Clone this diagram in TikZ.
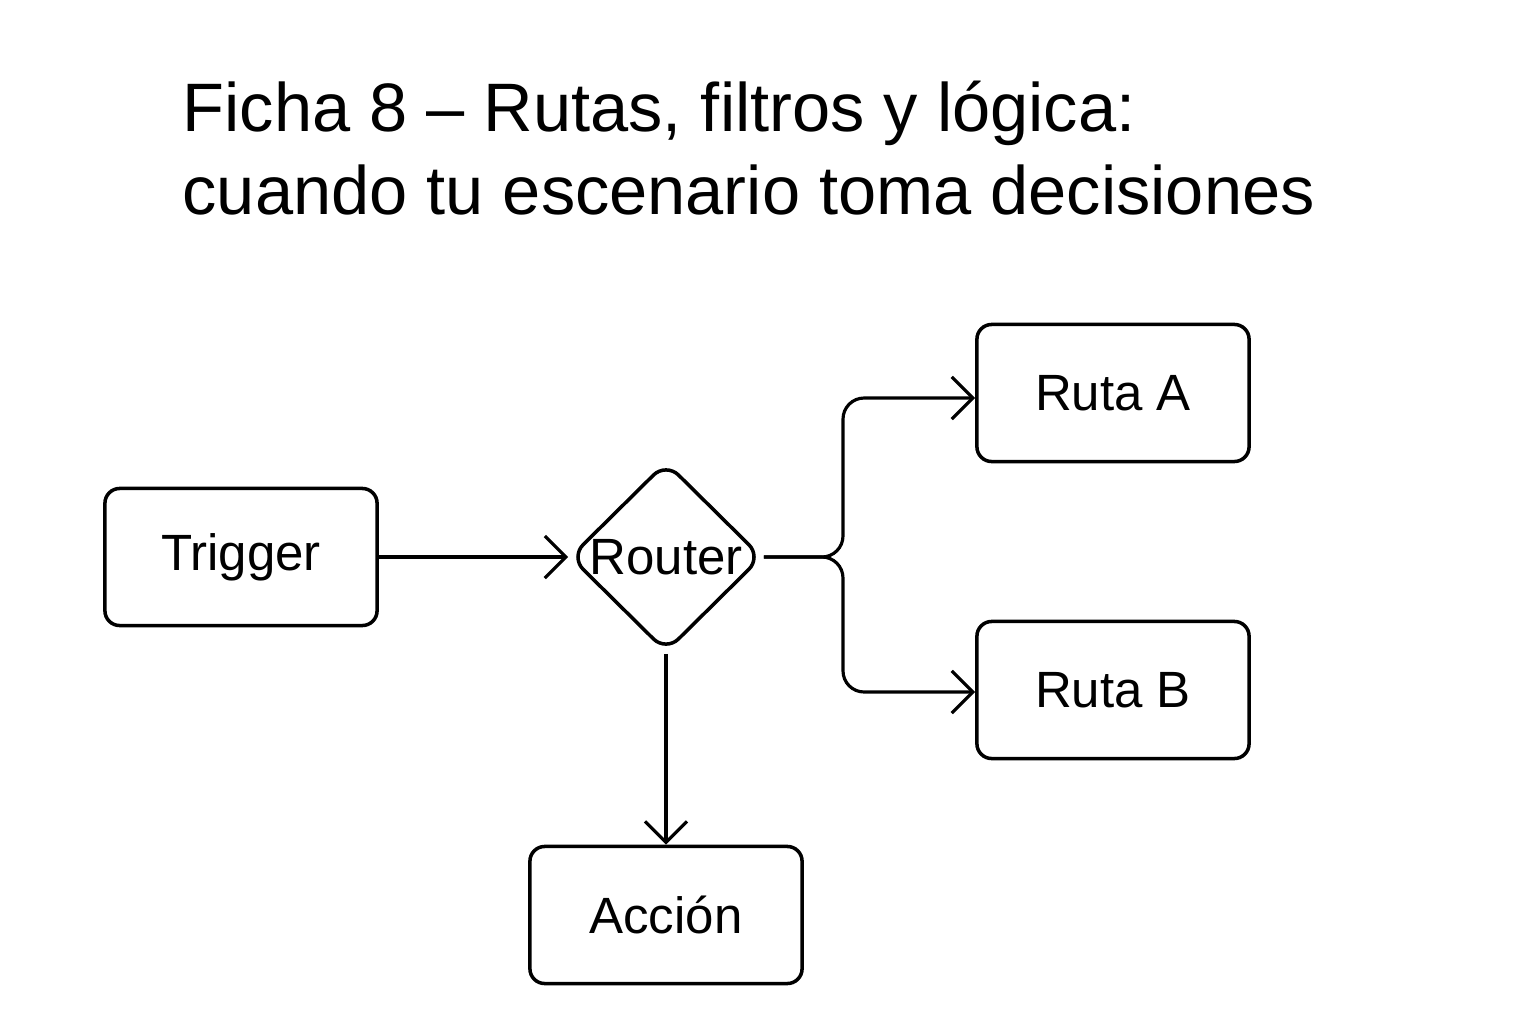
\documentclass[tikz,border=0pt]{standalone}
\usepackage{fontspec}
\setmainfont{Liberation Sans}
\usetikzlibrary{shapes.geometric,arrows.meta}
\begin{document}
\begin{tikzpicture}[x=0.01cm,y=-0.01cm,
  box/.style={draw,line width=1pt,rounded corners=14pt*0.3,minimum width=2.72cm,minimum height=1.37cm,font=\fontsize{14.5}{17}\selectfont},
  dia/.style={draw,line width=1pt,diamond,rounded corners=5pt,minimum width=1.92cm,minimum height=1.9cm,inner sep=0pt,font=\fontsize{14.5}{17}\selectfont},
  conn/.style={line width=0.9pt,-{Straight Barb[length=6pt,width=12pt]}},
  title/.style={font=\fontsize{19.5}{23.6}\selectfont,anchor=north west,align=left,inner sep=0pt}]
\useasboundingbox (0,0) rectangle (1536,1024);
\node[title] (t) at (182,80) {Ficha 8 – Rutas, filtros y lógica:\\cuando tu escenario toma decisiones};
\node[box] (trig) at (241,557) {Trigger};
\node[dia] (rout) at (666,557) {Router};
\node[box] (ra) at (1113,393) {Ruta A};
\node[box] (rb) at (1113,690) {Ruta B};
\node[box] (acc) at (666,915) {Acción};
\coordinate (ja) at (843,557);
\draw[conn] (trig.east) -- (rout.west);
\draw[conn,rounded corners=12pt*0.5] (rout.east) -- (ja) -- (843,398) -- (ra.west|-0,398);
\draw[conn,rounded corners=12pt*0.5] (rout.east) -- (ja) -- (843,692) -- (rb.west|-0,692);
\draw[conn] (rout.south) -- (acc.north);
\end{tikzpicture}
\end{document}
